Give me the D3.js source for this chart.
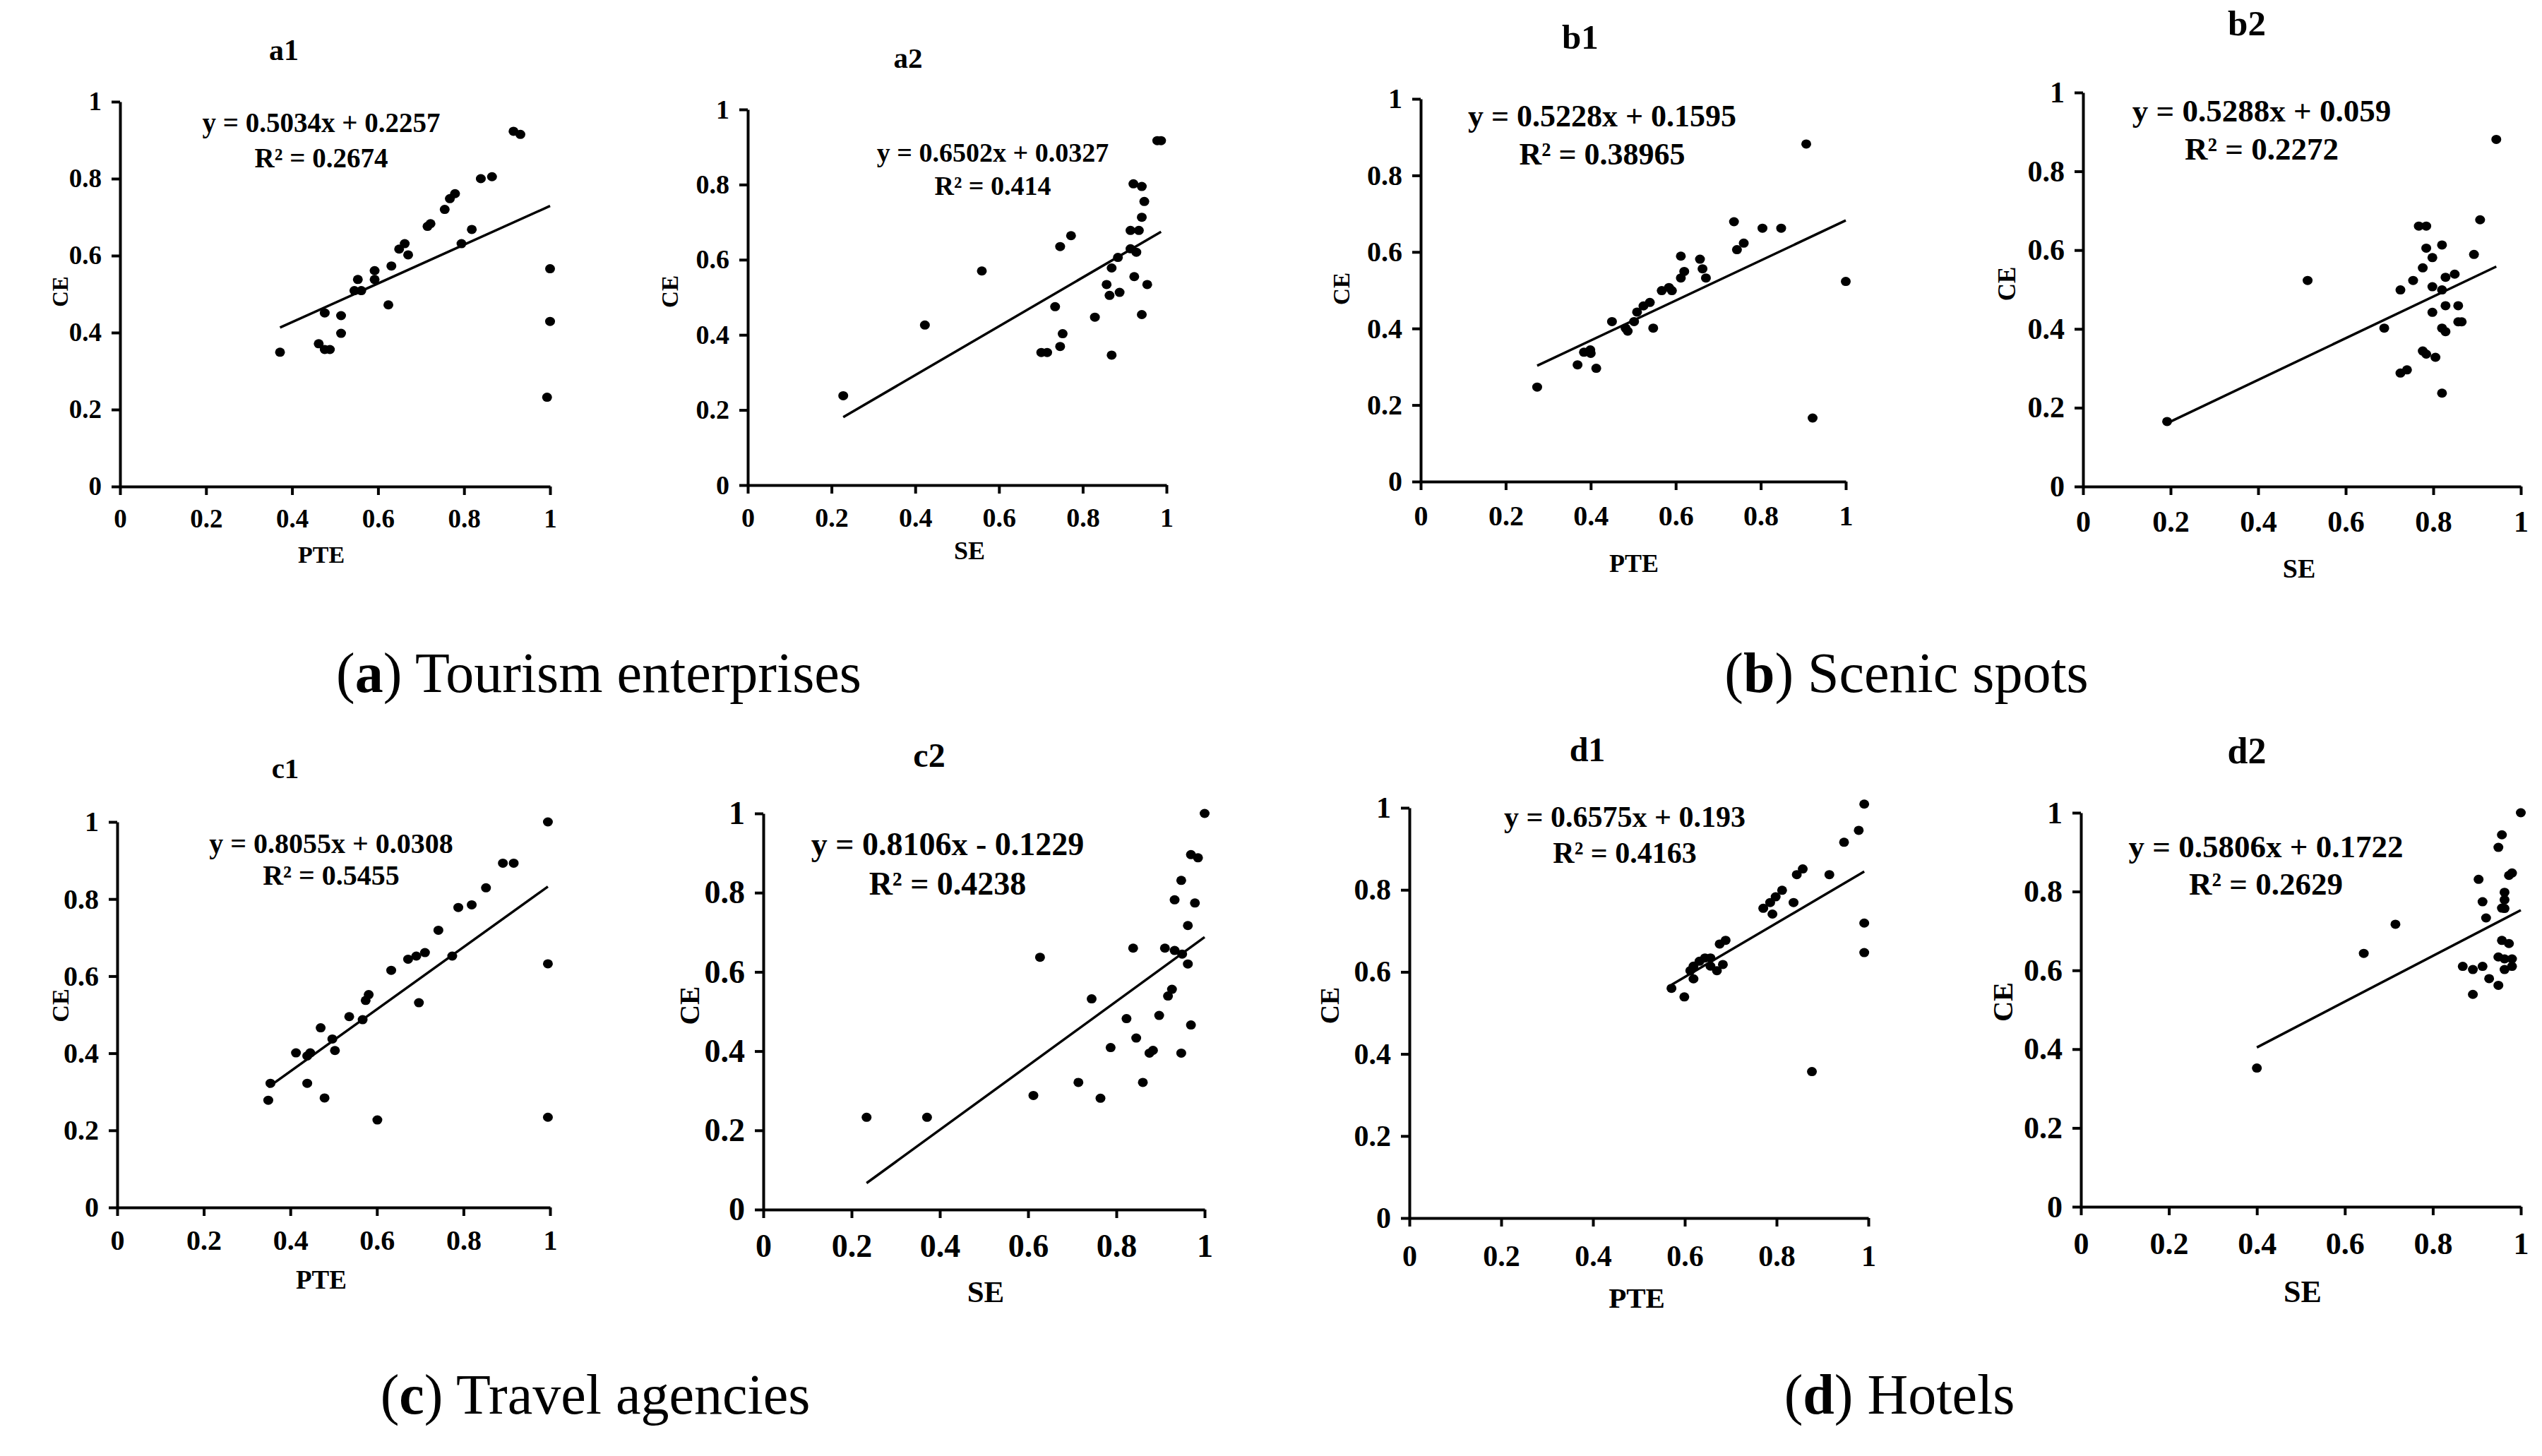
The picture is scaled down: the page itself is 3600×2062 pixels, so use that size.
<!DOCTYPE html>
<html>
<head>
<meta charset="utf-8">
<script src="https://cdn.jsdelivr.net/npm/d3@7"></script>
<style>
  body { margin: 0; background: #fff; }
  svg { display: block; }
</style>
</head>
<body>
<svg id="chart" width="3600" height="2062"></svg>
<script>
const serif = "'Liberation Serif', 'Times New Roman', serif";

const ticks = [0, 0.2, 0.4, 0.6, 0.8, 1];
const tickLabels = ["0", "0.2", "0.4", "0.6", "0.8", "1"];

const panelNames = ["a1", "a2", "b1", "b2", "c1", "c2", "d1", "d2"];
const xTitles = ["PTE", "SE", "PTE", "SE", "PTE", "SE", "PTE", "SE"];
const yTitle = "CE";
const equations = [
  "y = 0.5034x + 0.2257", "y = 0.6502x + 0.0327", "y = 0.5228x + 0.1595", "y = 0.5288x + 0.059",
  "y = 0.8055x + 0.0308", "y = 0.8106x - 0.1229", "y = 0.6575x + 0.193", "y = 0.5806x + 0.1722"
];
const rSquared = [
  "R² = 0.2674", "R² = 0.414", "R² = 0.38965", "R² = 0.2272",
  "R² = 0.5455", "R² = 0.4238", "R² = 0.4163", "R² = 0.2629"
];
const slopes = [0.5034, 0.6502, 0.5228, 0.5288, 0.8055, 0.8106, 0.6575, 0.5806];
const intercepts = [0.2257, 0.0327, 0.1595, 0.059, 0.0308, -0.1229, 0.193, 0.1722];

// (a) tourism enterprises
const a1PTE = [0.372,0.462,0.476,0.488,0.476,0.514,0.514,0.545,0.561,0.553,0.592,0.592,0.624,0.631,0.649,0.662,0.670,0.715,0.722,0.755,0.767,0.779,0.794,0.818,0.839,0.865,0.915,0.931,1.0,1.0,0.993];
const a1CE  = [0.349,0.371,0.356,0.356,0.451,0.444,0.398,0.509,0.509,0.538,0.561,0.538,0.472,0.573,0.617,0.631,0.602,0.676,0.683,0.720,0.748,0.761,0.631,0.668,0.800,0.805,0.923,0.915,0.566,0.429,0.232];
const a2SE  = [0.228,0.423,0.559,0.701,0.715,0.734,0.746,0.746,0.752,0.772,0.829,0.857,0.864,0.869,0.869,0.884,0.888,0.914,0.914,0.923,0.928,0.921,0.934,0.941,0.941,0.941,0.947,0.954,0.978,0.987];
const a2CE  = [0.238,0.426,0.570,0.353,0.353,0.475,0.635,0.369,0.403,0.664,0.447,0.534,0.505,0.578,0.346,0.606,0.513,0.678,0.629,0.555,0.620,0.802,0.678,0.795,0.713,0.454,0.755,0.534,0.917,0.917];
// (b) scenic spots
const b1PTE = [0.274,0.369,0.384,0.399,0.400,0.413,0.450,0.482,0.487,0.502,0.509,0.524,0.539,0.547,0.567,0.584,0.591,0.612,0.612,0.620,0.657,0.663,0.671,0.737,0.744,0.760,0.804,0.848,0.907,0.922,1.0];
const b1CE  = [0.247,0.305,0.338,0.344,0.335,0.296,0.418,0.401,0.393,0.418,0.443,0.459,0.468,0.401,0.499,0.507,0.499,0.532,0.589,0.549,0.581,0.556,0.532,0.679,0.606,0.623,0.662,0.662,0.882,0.166,0.523];
const b2SE  = [0.192,0.513,0.688,0.725,0.740,0.725,0.754,0.767,0.784,0.776,0.784,0.776,0.784,0.798,0.798,0.798,0.805,0.820,0.820,0.820,0.828,0.828,0.828,0.820,0.849,0.857,0.857,0.865,0.893,0.907,0.944];
const b2CE  = [0.165,0.523,0.402,0.288,0.296,0.499,0.523,0.661,0.661,0.555,0.605,0.344,0.336,0.581,0.507,0.442,0.328,0.613,0.499,0.402,0.393,0.531,0.459,0.237,0.539,0.459,0.418,0.418,0.589,0.677,0.881];
// (c) travel agencies
const c1PTE = [0.349,0.354,0.413,0.439,0.446,0.439,0.470,0.479,0.497,0.503,0.536,0.567,0.574,0.581,0.601,0.633,0.672,0.691,0.697,0.711,0.742,0.774,0.788,0.819,0.852,0.891,0.916,0.995,0.995,0.995];
const c1CE  = [0.278,0.322,0.401,0.393,0.401,0.322,0.466,0.284,0.437,0.407,0.495,0.487,0.537,0.552,0.227,0.615,0.644,0.652,0.531,0.661,0.719,0.652,0.778,0.785,0.829,0.893,0.893,1.0,0.632,0.234];
const c2SE  = [0.234,0.371,0.612,0.627,0.714,0.744,0.764,0.787,0.823,0.838,0.845,0.860,0.875,0.883,0.897,0.910,0.917,0.926,0.932,0.932,0.947,0.947,0.949,0.962,0.962,0.969,0.969,0.978,0.985,1.0];
const c2CE  = [0.233,0.233,0.288,0.637,0.321,0.532,0.281,0.409,0.482,0.660,0.433,0.321,0.395,0.402,0.490,0.660,0.539,0.556,0.654,0.782,0.831,0.395,0.645,0.717,0.620,0.466,0.896,0.774,0.888,1.0];
// (d) hotels
const d1PTE = [0.571,0.599,0.612,0.619,0.619,0.632,0.644,0.656,0.656,0.670,0.683,0.676,0.689,0.771,0.786,0.791,0.798,0.812,0.837,0.844,0.857,0.877,0.915,0.947,0.979,0.991,0.991,0.991];
const d1CE  = [0.560,0.539,0.603,0.614,0.583,0.626,0.634,0.634,0.614,0.603,0.618,0.668,0.677,0.755,0.769,0.741,0.783,0.799,0.769,0.837,0.851,0.357,0.837,0.916,0.945,1.009,0.719,0.647];
const d2SE  = [0.400,0.643,0.715,0.868,0.891,0.891,0.904,0.913,0.913,0.921,0.928,0.949,0.949,0.949,0.957,0.957,0.957,0.963,0.963,0.963,0.963,0.963,0.973,0.973,0.980,0.980,0.980,1.0];
const d2CE  = [0.352,0.643,0.717,0.610,0.602,0.539,0.831,0.774,0.610,0.733,0.579,0.912,0.634,0.562,0.944,0.758,0.676,0.798,0.779,0.757,0.629,0.602,0.668,0.841,0.847,0.629,0.610,1.0];

const xSeries = [a1PTE, a2SE, b1PTE, b2SE, c1PTE, c2SE, d1PTE, d2SE];
const ySeries = [a1CE, a2CE, b1CE, b2CE, c1CE, c2CE, d1CE, d2CE];

const captionLetters = ["a", "b", "c", "d"];
const captionTexts = [" Tourism enterprises", " Scenic spots", " Travel agencies", " Hotels"];

// where each small plot sits on the page
const layout = [
  { x0: 170,  x1: 779,  yTop: 144,  y0: 689,  title: [402, 85, 42],   eq: [455, 187, 237, 39],   tick: 37, pad: 20, xt: [455, 797],   yt: [85, 413],    axisFont: 34 },
  { x0: 1059, x1: 1652, yTop: 155,  y0: 687,  title: [1286, 96, 41],  eq: [1406, 229, 276, 38],  tick: 38, pad: 20, xt: [1373, 792],  yt: [948, 413],   axisFont: 36 },
  { x0: 2012, x1: 2614, yTop: 140,  y0: 682,  title: [2238, 69, 49],  eq: [2269, 179, 233, 44],  tick: 40, pad: 22, xt: [2314, 810],  yt: [1899, 409],  axisFont: 36 },
  { x0: 2950, x1: 3570, yTop: 131,  y0: 689,  title: [3182, 50, 51],  eq: [3203, 172, 226, 45],  tick: 42, pad: 22, xt: [3256, 818],  yt: [2842, 402],  axisFont: 38 },
  { x0: 166,  x1: 779,  yTop: 1164, y0: 1710, title: [404, 1102, 41], eq: [469, 1208, 1253, 40], tick: 40, pad: 20, xt: [455, 1825],  yt: [85, 1424],   axisFont: 37 },
  { x0: 1081, x1: 1706, yTop: 1152, y0: 1713, title: [1316, 1086, 48],eq: [1342, 1211, 1267, 46],tick: 46, pad: 22, xt: [1396, 1844], yt: [976, 1424],  axisFont: 43 },
  { x0: 1996, x1: 2646, yTop: 1144, y0: 1725, title: [2248, 1078, 48],eq: [2301, 1171, 1222, 42],tick: 42, pad: 26, xt: [2318, 1852], yt: [1883, 1424], axisFont: 41 },
  { x0: 2947, x1: 3570, yTop: 1151, y0: 1709, title: [3182, 1081, 52],eq: [3209, 1214, 1267, 45],tick: 44, pad: 24, xt: [3261, 1844], yt: [2836, 1419], axisFont: 44 }
];
const captionPos = [[848, 980], [2700, 980], [843, 2002], [2690, 2002]];

const svg = d3.select("#chart");
svg.append("rect").attr("width", 3600).attr("height", 2062).attr("fill", "#fff");

function styleAxis(g, size) {
  g.attr("font-family", serif).attr("font-size", size).attr("font-weight", "bold");
  g.selectAll("path, line").attr("stroke", "#000").attr("stroke-width", 4);
  g.selectAll("text").attr("fill", "#000");
}

function drawPanel(i) {
  const L = layout[i];
  const g = svg.append("g");
  const x = d3.scaleLinear().domain([0, 1]).range([L.x0, L.x1]);
  const y = d3.scaleLinear().domain([0, 1]).range([L.y0, L.yTop]);

  g.append("g")
    .attr("transform", `translate(0,${L.y0})`)
    .call(d3.axisBottom(x).tickValues(ticks).tickFormat((d, j) => tickLabels[j])
      .tickSize(12).tickSizeOuter(0).tickPadding(L.pad))
    .call(a => styleAxis(a, L.tick));

  g.append("g")
    .attr("transform", `translate(${L.x0},0)`)
    .call(d3.axisLeft(y).tickValues(ticks).tickFormat((d, j) => tickLabels[j])
      .tickSize(12).tickSizeOuter(0).tickPadding(14))
    .call(a => styleAxis(a, L.tick));

  // trend line over the range of the points
  const ext = d3.extent(xSeries[i]);
  g.append("line")
    .attr("x1", x(ext[0])).attr("y1", y(slopes[i] * ext[0] + intercepts[i]))
    .attr("x2", x(ext[1])).attr("y2", y(slopes[i] * ext[1] + intercepts[i]))
    .attr("stroke", "#000").attr("stroke-width", 3.5);

  g.selectAll("ellipse")
    .data(d3.zip(xSeries[i], ySeries[i]))
    .join("ellipse")
    .attr("cx", d => x(d[0]))
    .attr("cy", d => y(d[1]))
    .attr("rx", 7)
    .attr("ry", 6.5)
    .attr("fill", "#000");

  const bold = sel => sel.attr("font-family", serif).attr("font-weight", "bold").attr("fill", "#000");

  g.append("text").call(bold)
    .attr("x", L.title[0]).attr("y", L.title[1]).attr("font-size", L.title[2])
    .attr("text-anchor", "middle").text(panelNames[i]);

  g.append("text").call(bold)
    .attr("x", L.eq[0]).attr("y", L.eq[1]).attr("font-size", L.eq[3])
    .attr("text-anchor", "middle").text(equations[i]);
  g.append("text").call(bold)
    .attr("x", L.eq[0]).attr("y", L.eq[2]).attr("font-size", L.eq[3])
    .attr("text-anchor", "middle").text(rSquared[i]);

  g.append("text").call(bold)
    .attr("x", L.xt[0]).attr("y", L.xt[1]).attr("font-size", L.axisFont)
    .attr("text-anchor", "middle").text(xTitles[i]);

  g.append("text").call(bold)
    .attr("transform", `translate(${L.yt[0]},${L.yt[1]}) rotate(-90)`)
    .attr("font-size", L.axisFont * 0.92)
    .attr("text-anchor", "middle").attr("dy", "0.35em").text(yTitle);
}

panelNames.forEach((n, i) => drawPanel(i));

captionLetters.forEach((c, i) => {
  const t = svg.append("text")
    .attr("x", captionPos[i][0]).attr("y", captionPos[i][1])
    .attr("font-family", serif).attr("font-size", 80)
    .attr("text-anchor", "middle").attr("fill", "#000");
  t.append("tspan").text("(");
  t.append("tspan").attr("font-weight", "bold").text(c);
  t.append("tspan").text(")" + captionTexts[i]);
});
</script>
</body>
</html>
